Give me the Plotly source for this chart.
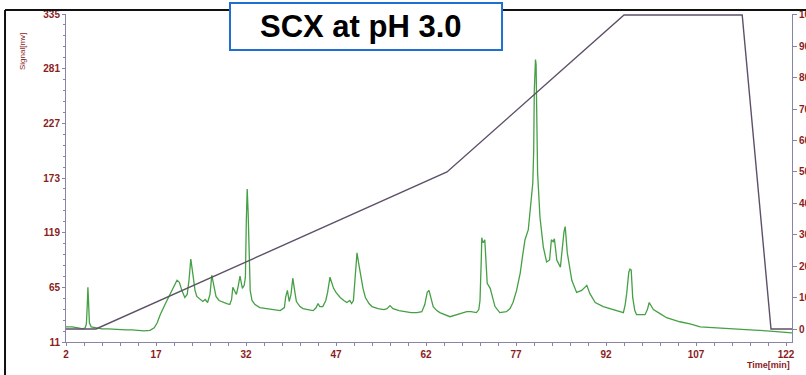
import plotly.graph_objects as go

# ---- data ----
time_min = [2.0, 3.0, 4.0, 4.8, 5.2, 5.4, 5.55, 5.65, 5.75, 5.9, 6.2, 7.0, 8.0, 9.0, 10.0, 11.0, 12.0,
            13.0, 14.0, 15.0, 16.0, 16.7, 17.2, 17.7, 18.5, 19.3, 20.0, 20.5, 20.9, 21.3, 21.8, 22.2,
            22.5, 22.8, 23.1, 23.5, 23.8, 24.3, 24.8, 25.2, 25.6, 26.0, 26.3, 26.6, 27.0, 27.5, 28.2,
            28.8, 29.3, 29.6, 29.8, 30.1, 30.4, 30.7, 31.0, 31.2, 31.4, 31.7, 31.9, 32.05, 32.2, 32.35,
            32.5, 32.7, 33.0, 33.5, 34.3, 35.4, 36.5, 37.7, 38.4, 38.6, 38.9, 39.2, 39.5, 39.8, 40.1,
            40.4, 41.0, 41.5, 42.3, 43.2, 43.7, 44.0, 44.3, 44.8, 45.3, 45.6, 46.0, 46.3, 46.6, 47.0,
            47.7, 48.3, 48.8, 49.3, 49.6, 49.9, 50.2, 50.5, 50.8, 51.1, 51.5, 51.9, 52.5, 53.0, 54.0,
            55.0, 55.5, 56.0, 56.5, 57.5, 58.5, 59.5, 60.5, 61.3, 61.8, 62.2, 62.5, 62.8, 63.2, 63.8,
            64.3, 66.0, 67.5, 68.8, 69.5, 70.4, 70.8, 71.0, 71.2, 71.3, 71.45, 71.55, 71.8, 72.0, 72.2,
            72.7, 73.1, 73.5, 74.3, 75.4, 76.0, 76.5, 77.1, 77.7, 78.1, 78.5, 79.05, 79.4, 79.8, 79.95,
            80.05, 80.25, 80.35, 80.45, 80.6, 81.0, 81.55, 82.1, 82.6, 82.9, 83.2, 83.4, 83.8, 84.4,
            84.7, 85.0, 85.2, 85.55, 86.3, 87.1, 87.95, 88.8, 89.3, 90.2, 91.55, 93.2, 94.9, 95.2,
            95.45, 95.8, 96.0, 96.2, 96.45, 96.8, 97.1, 98.5, 98.9, 99.2, 99.5, 99.9, 101.0, 102.1,
            104.3, 106.0, 107.7, 110.0, 113.2, 116.0, 118.8, 121.0, 123.0]
signal_mv = [26, 26, 25, 24, 25, 29, 48, 65, 52, 30, 26, 25, 24, 24, 23.5, 23.5, 23,
             23, 22.5, 22, 22.5, 25, 30, 38, 48, 58, 67, 72, 70, 62, 55, 58,
             72, 93, 80, 62, 56, 53, 51, 53, 50, 58, 77, 68, 56, 52, 50,
             49, 48, 53, 65, 62, 58, 66, 76, 70, 64, 67, 75, 130, 162, 140,
             90, 62, 52, 48, 45, 44, 43, 42, 45, 55, 62, 51, 58, 74, 62,
             51, 46, 44, 43, 42, 45, 49, 46, 46, 52, 60, 75, 70, 64, 60,
             55, 52, 50, 52, 49, 52, 75, 99, 88, 76, 64, 55, 49, 46, 44,
             43, 44, 47, 44, 42, 41, 40, 40, 41, 48, 60, 62, 55, 46, 42,
             40, 36, 39, 41, 41, 40, 43, 52, 90, 114, 110, 109, 112, 90, 69,
             64, 54, 46, 40, 41, 44, 50, 62, 79, 96, 112, 122, 144, 168, 200,
             260, 290, 285, 240, 178, 134, 105, 90, 92, 112, 110, 113, 92, 85,
             105, 120, 125, 99, 72, 60, 62, 67, 59, 50, 46, 43, 40, 48,
             59, 80, 83, 82, 55, 42, 38, 38, 43, 50, 47, 43, 39, 35,
             31, 29, 26, 25, 24, 23, 22, 21, 20]

gradient_time = [2.0, 7.0, 65.5, 95.0, 114.7, 119.5, 123.0]
gradient_pct = [0, 0, 50, 100, 100, 0, 0]

x_ticks = [2, 17, 32, 47, 62, 77, 92, 107, 122]
y_ticks = [11, 65, 119, 173, 227, 281, 335]
y2_ticks = [0, 10, 20, 30, 40, 50, 60, 70, 80, 90, 100]

title_text = "SCX at pH 3.0"

# ---- styling ----
axis_col = "#8884a6"
lab_col = "#8b1c1c"
tick_font = dict(family="Liberation Sans, Arial, sans-serif", size=10, color=lab_col, weight="bold")

fig = go.Figure()
fig.add_trace(go.Scatter(x=time_min, y=signal_mv, mode="lines",
                         line=dict(color="#45a045", width=1.3), yaxis="y", showlegend=False,
                         hoverinfo="skip"))
fig.add_trace(go.Scatter(x=gradient_time, y=gradient_pct, mode="lines",
                         line=dict(color="#5e5068", width=1.4), yaxis="y2", showlegend=False,
                         hoverinfo="skip"))

fig.update_layout(
    width=806, height=375, autosize=False,
    margin=dict(l=66, r=14, t=14, b=33),
    paper_bgcolor="white", plot_bgcolor="white",
    xaxis=dict(range=[2, 123], tickvals=x_ticks, showgrid=False, zeroline=False, automargin=False,
               showline=True, linecolor=axis_col, linewidth=1,
               ticks="outside", ticklen=3, tickcolor=axis_col, tickfont=tick_font,
               minor=dict(dtick=3, tick0=2, ticks="outside", ticklen=3, tickcolor=axis_col)),
    yaxis=dict(range=[11, 335], tickvals=y_ticks, showgrid=False, zeroline=False, automargin=False,
               showline=True, linecolor=axis_col, linewidth=1,
               ticks="outside", ticklen=3, tickcolor=axis_col, tickfont=tick_font,
               minor=dict(dtick=10.8, tick0=11, ticks="outside", ticklen=2, tickcolor=axis_col)),
    yaxis2=dict(range=[-4.14, 100.3], tickvals=y2_ticks, overlaying="y", side="right",
                automargin=False,
                showgrid=False, zeroline=False, showline=True, linecolor=axis_col, linewidth=1,
                ticks="outside", ticklen=4, tickcolor=axis_col, tickfont=tick_font),
)

# frame lines (black border top / left)
fig.add_shape(type="line", xref="paper", yref="paper", x0=-0.084, x1=1.03, y0=1.0122, y1=1.0122,
              line=dict(color="#111111", width=2))
fig.add_shape(type="line", xref="paper", yref="paper", x0=-0.084, x1=-0.084, y0=-0.12, y1=1.0122,
              line=dict(color="#111111", width=2))
# title box
fig.add_shape(type="rect", xref="paper", yref="paper", x0=0.2259, x1=0.6006, y0=0.8902, y1=1.0335,
              fillcolor="white", line=dict(color="#1f6fd0", width=2))
fig.add_annotation(text=title_text, xref="paper", yref="paper", x=0.407, y=0.962,
                   xanchor="center", yanchor="middle", showarrow=False,
                   font=dict(family="Liberation Sans, Arial, sans-serif", size=31, color="black",
                             weight="bold"))
# axis titles
fig.add_annotation(text="Time[min]", xref="paper", yref="paper", x=1.0, y=-0.07,
                   xanchor="right", yanchor="middle", showarrow=False,
                   font=dict(family="Liberation Sans, Arial, sans-serif", size=9, color=lab_col,
                             weight="bold"))
fig.add_annotation(text="Signal[mv]", xref="paper", yref="paper", x=-0.0606, y=0.884,
                   xanchor="center", yanchor="middle", showarrow=False, textangle=-90,
                   font=dict(family="Liberation Sans, Arial, sans-serif", size=8, color=lab_col))

fig.write_html("out.html", config={"displayModeBar": False},
               post_script="document.body.style.margin='0px';document.body.style.overflow='hidden';")
